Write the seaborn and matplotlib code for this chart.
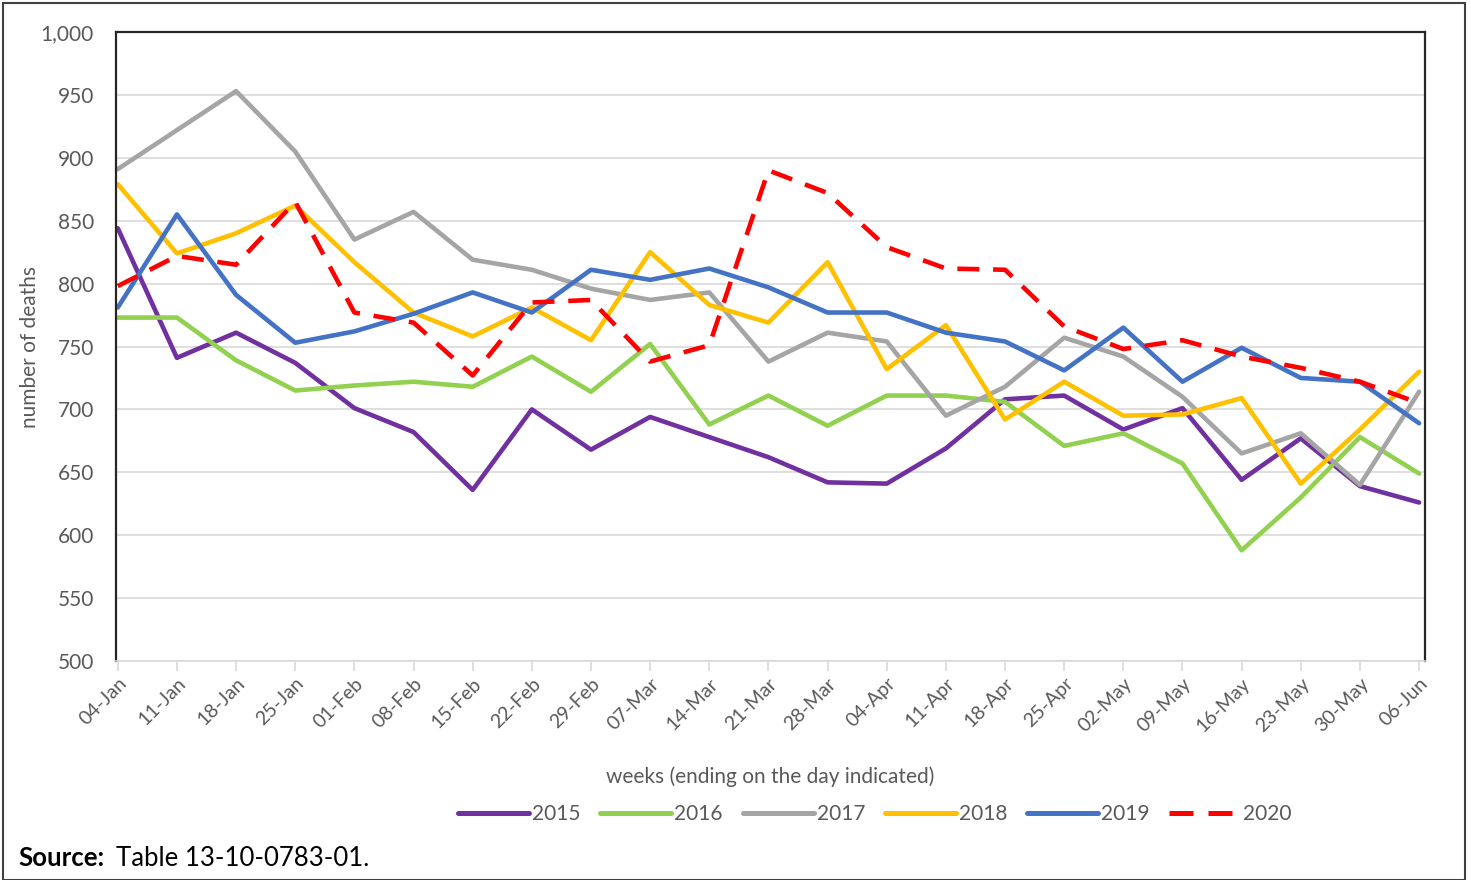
import matplotlib
matplotlib.use("Agg")
import matplotlib.pyplot as plt
import seaborn as sns
import pandas as pd
from matplotlib.patches import Rectangle

weeks = ["04-Jan", "11-Jan", "18-Jan", "25-Jan", "01-Feb", "08-Feb", "15-Feb", "22-Feb",
         "29-Feb", "07-Mar", "14-Mar", "21-Mar", "28-Mar", "04-Apr", "11-Apr", "18-Apr",
         "25-Apr", "02-May", "09-May", "16-May", "23-May", "30-May", "06-Jun"]

y2015 = [844, 741, 761, 737, 701, 682, 636, 700, 668, 694, 678, 662, 642, 641, 669, 708,
         711, 684, 701, 644, 677, 639, 626]
y2016 = [773, 773, 739, 715, 719, 722, 718, 742, 714, 752, 688, 711, 687, 711, 711, 706,
         671, 681, 657, 588, 630, 678, 649]
y2017 = [891, 922, 953, 905, 835, 857, 819, 811, 796, 787, 793, 738, 761, 754, 695, 718,
         757, 742, 710, 665, 681, 640, 714]
y2018 = [879, 824, 840, 862, 817, 777, 758, 781, 755, 825, 783, 769, 817, 732, 767, 692,
         722, 695, 696, 709, 641, 684, 730]
y2019 = [781, 855, 791, 753, 762, 776, 793, 777, 811, 803, 812, 797, 777, 777, 761, 754,
         731, 765, 722, 749, 725, 722, 689]
y2020 = [798, 822, 815, 865, 777, 769, 727, 785, 787, 738, 751, 890, 872, 829, 812, 811,
         766, 748, 755, 742, 733, 722, 705]

years = ["2015", "2016", "2017", "2018", "2019", "2020"]
series = [y2015, y2016, y2017, y2018, y2019, y2020]
yticks = [500, 550, 600, 650, 700, 750, 800, 850, 900, 950, 1000]

rows = []
for yr, vals in zip(years, series):
    for i, v in enumerate(vals):
        rows.append({"week": i, "deaths": v, "year": yr})
df = pd.DataFrame(rows)

palette = {"2015": "#7030A0", "2016": "#92D050", "2017": "#A5A5A5",
           "2018": "#FFC000", "2019": "#4472C4", "2020": "#FF0000"}
dashes = {"2015": "", "2016": "", "2017": "", "2018": "", "2019": "", "2020": (4.8, 3.0)}

sns.set_theme(style="white")
plt.rcParams["font.family"] = ["Lato", "DejaVu Sans"]

fig = plt.figure(figsize=(14.71, 8.8), dpi=100)
ax = fig.add_axes([116/1471, 1 - 661/880, (1425-116)/1471, (661-32)/880])

sns.lineplot(data=df, x="week", y="deaths", hue="year", style="year",
             palette=palette, dashes=dashes, linewidth=3.3, ax=ax, legend=True)

ax.set_ylim(500, 1000)
ax.set_xlim(-0.03, 22.1)
ax.set_yticks(yticks)
ax.set_yticklabels([f"{t:,}" for t in yticks], color="#595959", fontsize=15)
ax.set_xticks(range(len(weeks)))
ax.set_xticklabels(weeks, rotation=45, ha="right", rotation_mode="anchor",
                   color="#595959", fontsize=14)
ax.grid(axis="y", color="#D9D9D9", linewidth=1.2)
ax.set_axisbelow(True)

for s in ["left", "top", "right"]:
    ax.spines[s].set_color("#262626")
    ax.spines[s].set_linewidth(1.6)
ax.spines["bottom"].set_color("#D9D9D9")
ax.spines["bottom"].set_linewidth(1.2)
ax.tick_params(axis="x", bottom=True, length=7, color="#D9D9D9", width=1.2, pad=3)
ax.tick_params(axis="y", left=False, pad=10)

ax.set_xlabel("weeks (ending on the day indicated)", color="#595959", fontsize=15)
ax.set_ylabel("number of deaths", color="#595959", fontsize=15)
ax.xaxis.set_label_coords(0.5, -0.168)
ax.yaxis.set_label_coords(-0.058, 0.5)

handles, labels = ax.get_legend_handles_labels()
ax.get_legend().remove()
leg = fig.legend(handles, labels, loc="center", bbox_to_anchor=(875/1471, 1 - 814/880),
                 ncol=6, frameon=False, fontsize=15, handlelength=3.4,
                 columnspacing=0.95, handletextpad=0.15)
for t in leg.get_texts():
    t.set_color("#595959")
for h in leg.legend_handles:
    h.set_linewidth(3.6)

fig.text(18/1471, 1 - 858/880, "Source:", fontsize=18.5, fontweight="bold",
         color="black", va="center", ha="left")
fig.text(116/1471, 1 - 858/880, "Table 13-10-0783-01.", fontsize=18.5,
         color="black", va="center", ha="left")

fig.patches.append(Rectangle((3/1471, 0.0), 1462/1471, 1 - 3/880, transform=fig.transFigure,
                             fill=False, edgecolor="#404040", linewidth=1.5))

fig.savefig("out.png", dpi=100)
